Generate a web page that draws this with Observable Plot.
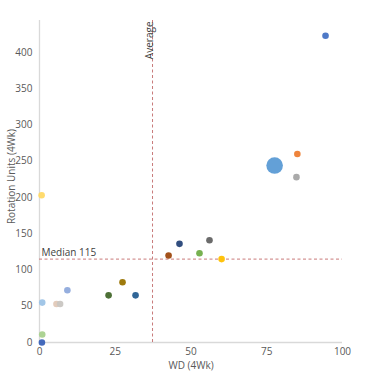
<!DOCTYPE html>
<html>
<head>
<meta charset="utf-8">
<script src="https://cdn.jsdelivr.net/npm/d3@7"></script>
<script src="https://cdn.jsdelivr.net/npm/@observablehq/plot@0.6"></script>
<style>
  html, body { margin: 0; padding: 0; background: #fff; }
  #chart svg { display: block; }
</style>
</head>
<body>
<div id="chart"></div>
<script>
const wd       = [94.4, 85.1, 77.6, 84.8, 60.1, 52.8, 46.2, 42.6, 56.1, 27.4, 31.7, 22.8, 9.2, 5.6, 6.8, 0.7, 0.9, 0.9, 0.8];
const rotation = [423, 260, 244, 228, 115, 123, 136, 120, 141, 83, 65, 65, 72, 53, 53, 203, 55, 11, 0];
const sizes    = [1, 1, 5, 1, 1, 1, 1, 1, 1, 1, 1, 1, 1, 1, 1, 1, 1, 1, 1];
const colors   = ["#4472C4", "#ED7D31", "#5B9BD5", "#A5A5A5", "#FFC000", "#70AD47", "#264478", "#9E480E", "#636363",
                  "#997300", "#255E91", "#43682B", "#8FAADC", "#E2C9B8", "#C9C6C2", "#FFD966", "#9DC3E6", "#A9D18E", "#3A62B8"];
const averageWD = 37.3;
const medianRotation = 115;
const xTicks = [0, 25, 50, 75, 100];
const yTicks = [0, 50, 100, 150, 200, 250, 300, 350, 400];

const data = wd.map((x, i) => ({x, y: rotation[i], s: sizes[i], c: colors[i]}));
const lineColor = "#c97a7a";

const chart = Plot.plot({
  width: 377,
  height: 374,
  marginLeft: 39,
  marginRight: 35,
  marginTop: 20,
  marginBottom: 32,
  style: {fontFamily: "'Open Sans', sans-serif", fontSize: "10px", color: "#595959", background: "#fff"},
  x: {domain: [0, 100], ticks: xTicks, label: null},
  y: {domain: [0, 444], ticks: yTicks, label: null},
  r: {type: "linear", domain: [1, 5], range: [3.3, 8.3]},
  marks: [
    Plot.ruleX([0], {stroke: "#d9d9d9", strokeWidth: 1.3}),
    Plot.ruleY([0], {stroke: "#d9d9d9", strokeWidth: 1.5}),
    Plot.axisX({ticks: xTicks, tickSize: 0, tickPadding: 5, fill: "#595959"}),
    Plot.axisY({ticks: yTicks, tickSize: 0, tickPadding: 7, fill: "#595959"}),
    Plot.text(["WD (4Wk)"], {frameAnchor: "bottom", dy: 23, textAnchor: "middle", lineAnchor: "middle", fill: "#595959", fontSize: 10}),
    Plot.text(["Rotation Units (4Wk)"], {frameAnchor: "left", dx: -28, dy: -5, textAnchor: "middle", rotate: -90, fill: "#595959", fontSize: 10}),
    Plot.ruleY([medianRotation], {stroke: lineColor, strokeDasharray: "3,2.5", strokeWidth: 1}),
    Plot.ruleX([averageWD], {stroke: lineColor, strokeDasharray: "3,2.5", strokeWidth: 1}),
    Plot.text([medianRotation], {x: 0, y: d => d, text: d => "Median " + d, textAnchor: "start", dx: 2, dy: -6, fill: "#404040", fontSize: 10}),
    Plot.text([averageWD], {x: d => d, frameAnchor: "top", text: () => "Average", rotate: -90, textAnchor: "end", dx: -7, dy: 1, fill: "#404040", fontSize: 10}),
    Plot.dot(data, {x: "x", y: "y", r: "s", fill: "c", fillOpacity: 0.95})
  ]
});
document.getElementById("chart").appendChild(chart);
</script>
</body>
</html>
